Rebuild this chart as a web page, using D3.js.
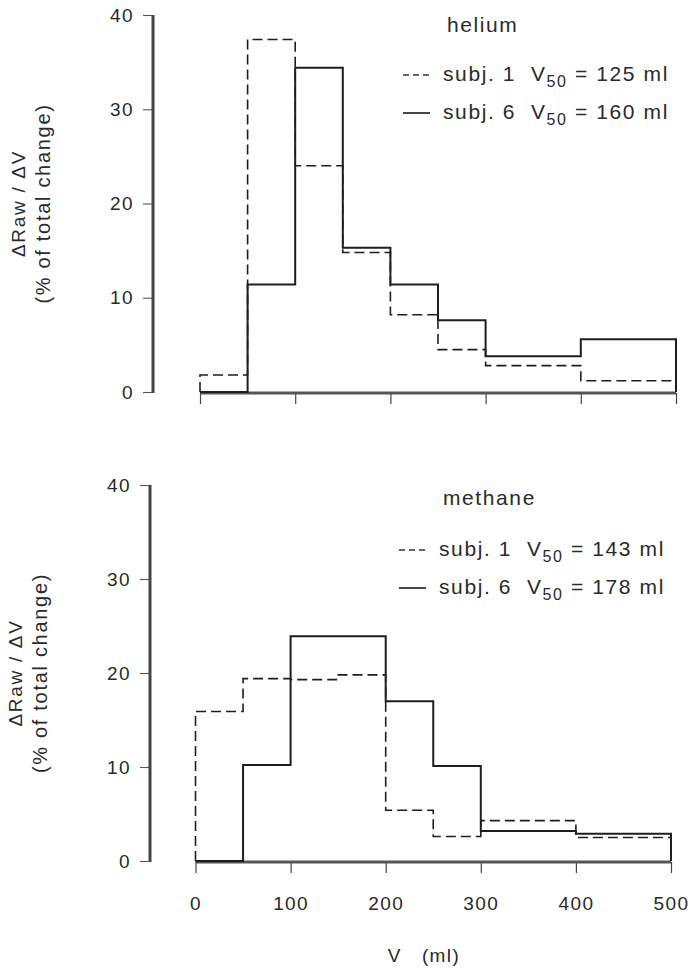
<!DOCTYPE html>
<html>
<head>
<meta charset="utf-8">
<script src="https://cdn.jsdelivr.net/npm/d3@7"></script>
<style>
  html, body { margin: 0; padding: 0; background: #fff; }
  svg { display: block; }
  text { font-family: "Liberation Sans", Arial, Helvetica, sans-serif; fill: #2a2a2a; letter-spacing: 1.4px; }
  .legend text { letter-spacing: 1.6px; }
</style>
</head>
<body>
<svg id="chart" width="694" height="971"></svg>
<script>
// Volume bins (ml): each bin runs from its start to the next start, last one to binEnd
const binStart = [0, 50, 100, 150, 200, 250, 300, 400];
const binEnd = 500;

// Helium: ΔRaw/ΔV as % of total change per volume bin
const heliumSubj1 = [1.8, 37.4, 24.0, 14.8, 8.2, 4.5, 2.8, 1.2];
const heliumSubj6 = [0, 11.4, 34.4, 15.3, 11.4, 7.6, 3.8, 5.6];

// Methane
const methaneSubj1 = [15.9, 19.4, 19.3, 19.8, 5.4, 2.6, 4.3, 2.5];
const methaneSubj6 = [0, 10.2, 23.9, 23.9, 17.0, 10.1, 3.2, 2.9];

const gasNames = ["helium", "methane"];
const subjectNames = ["subj. 1", "subj. 6"];
const heliumV50 = [125, 160];
const methaneV50 = [143, 178];

const yTicks = [0, 10, 20, 30, 40];
const xTicks = [0, 100, 200, 300, 400, 500];

const svg = d3.select("#chart");

const panels = [
  { gas: gasNames[0], series: [heliumSubj1, heliumSubj6], v50: heliumV50,
    xr: [200, 676], yr: [392, 15], axisX: 153, showXLabels: false,
    legendX: 403, titleY: 32, rowY: [81, 119] },
  { gas: gasNames[1], series: [methaneSubj1, methaneSubj6], v50: methaneV50,
    xr: [195.5, 671], yr: [861, 485], axisX: 150, showXLabels: true,
    legendX: 399, titleY: 505, rowY: [556, 594] }
];

panels.forEach(p => {
  const x = d3.scaleLinear().domain([0, binEnd]).range(p.xr);
  const y = d3.scaleLinear().domain([0, 40]).range(p.yr);
  const g = svg.append("g");

  // Y axis: thick vertical rule with short ticks on the left
  const yAxis = d3.axisLeft(y).tickValues(yTicks).tickSize(10).tickPadding(9).tickFormat(d3.format("d"));
  const ya = g.append("g").attr("transform", `translate(${p.axisX},0)`).call(yAxis);
  ya.select(".domain").remove();
  ya.selectAll(".tick line").attr("stroke", "#555").attr("stroke-width", 1.1);
  ya.selectAll(".tick text").attr("font-size", 19).attr("fill", "#2a2a2a").attr("font-family", null);
  g.append("line")
    .attr("x1", p.axisX).attr("x2", p.axisX)
    .attr("y1", y(40)).attr("y2", y(0) + 1)
    .attr("stroke", "#444").attr("stroke-width", 3);

  // X axis: ticks hanging below the zero baseline
  const xAxis = d3.axisBottom(x).tickValues(xTicks).tickSize(11).tickPadding(24)
    .tickFormat(p.showXLabels ? d3.format("d") : () => "");
  const xa = g.append("g").attr("transform", `translate(0,${y(0) + 1})`).call(xAxis);
  xa.select(".domain").remove();
  xa.selectAll(".tick line").attr("stroke", "#444").attr("stroke-width", 1.2);
  xa.selectAll(".tick text").attr("font-size", 19).attr("fill", "#2a2a2a").attr("font-family", null);

  // Zero baseline
  g.append("line")
    .attr("x1", x(0)).attr("x2", x(binEnd))
    .attr("y1", y(0) + 1).attr("y2", y(0) + 1)
    .attr("stroke", "#555").attr("stroke-width", 3.2);

  // Step histograms
  const stepLine = d3.line().x(d => x(d[0])).y(d => y(d[1])).curve(d3.curveStepAfter);
  const styles = [
    { dash: "10,5", width: 1.6 },
    { dash: null, width: 2 }
  ];
  p.series.forEach((vals, i) => {
    const pts = [[binStart[0], 0]];
    vals.forEach((v, k) => pts.push([binStart[k], v]));
    pts.push([binEnd, 0]);
    g.append("path")
      .attr("d", stepLine(pts))
      .attr("fill", "none")
      .attr("stroke", "#1e1e1e")
      .attr("stroke-width", styles[i].width)
      .attr("stroke-dasharray", styles[i].dash);
  });

  // Legend
  const lg = g.append("g").attr("class", "legend");
  lg.append("text").attr("x", p.legendX + 44).attr("y", p.titleY)
    .attr("font-size", 21).text(p.gas);
  p.series.forEach((vals, i) => {
    const ry = p.rowY[i];
    lg.append("line")
      .attr("x1", p.legendX).attr("x2", p.legendX + 27)
      .attr("y1", ry - 6).attr("y2", ry - 6)
      .attr("stroke", "#333").attr("stroke-width", i === 0 ? 1.6 : 1.8)
      .attr("stroke-dasharray", i === 0 ? "6,4" : null);
    const t = lg.append("text").attr("x", p.legendX + 40).attr("y", ry).attr("font-size", 21);
    t.append("tspan").text(subjectNames[i] + "\u00a0\u00a0V");
    t.append("tspan").attr("font-size", 16).attr("dy", 6).text("50");
    t.append("tspan").attr("dy", -6).text(" = " + p.v50[i] + " ml");
  });

  // Y title
  const cy = (p.yr[0] + p.yr[1]) / 2;
  const yt = g.append("text").attr("transform", `translate(${p.axisX - 128},${cy}) rotate(-90)`)
    .attr("text-anchor", "middle").attr("font-size", 19).style("letter-spacing", "1.7px");
  yt.append("tspan").attr("x", 0).attr("dy", 0).text("\u0394Raw / \u0394V");
  yt.append("tspan").attr("x", 0).attr("dy", 25).attr("font-size", 20).text("(% of total change)");
});

// X title
svg.append("text").attr("x", 424).attr("y", 962).attr("text-anchor", "middle")
  .attr("font-size", 19).text("V\u00a0\u00a0\u00a0(ml)");
</script>
</body>
</html>
